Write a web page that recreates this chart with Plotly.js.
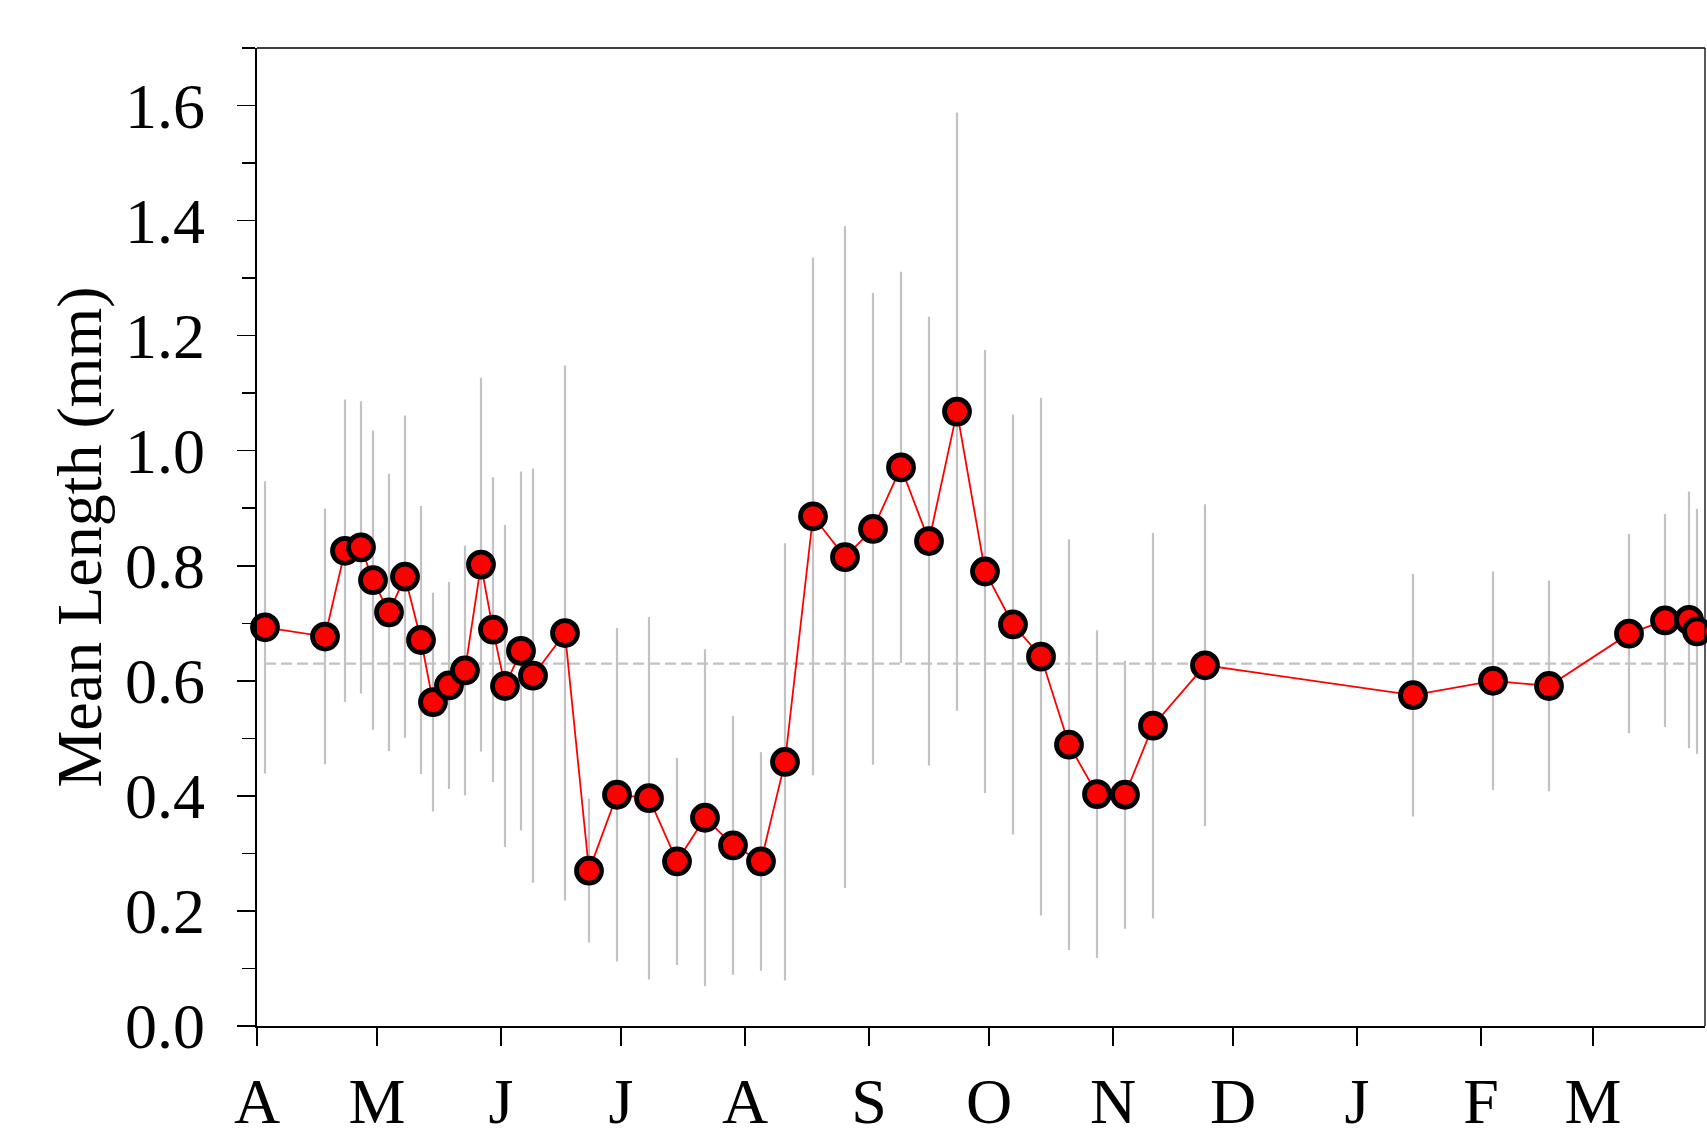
<!DOCTYPE html>
<html>
<head>
<meta charset="utf-8">
<script src="https://cdn.plot.ly/plotly-3.0.1.min.js"></script>
<style>html,body{margin:0;padding:0;background:#fff;}#chart{width:1707px;height:1140px;}</style>
</head>
<body>
<div id="chart"></div>
<script>
// ---- data ----
const sampleDates = [
  '2013-04-03','2013-04-18','2013-04-23','2013-04-27','2013-04-30',
  '2013-05-04','2013-05-08','2013-05-12','2013-05-15','2013-05-19',
  '2013-05-23','2013-05-27','2013-05-30','2013-06-02','2013-06-06',
  '2013-06-09','2013-06-17','2013-06-23','2013-06-30','2013-07-08',
  '2013-07-15','2013-07-22','2013-07-29','2013-08-05','2013-08-11',
  '2013-08-18','2013-08-26','2013-09-02','2013-09-09','2013-09-16',
  '2013-09-23','2013-09-30','2013-10-07','2013-10-14','2013-10-21',
  '2013-10-28','2013-11-04','2013-11-11','2013-11-24','2014-01-15',
  '2014-02-04','2014-02-18','2014-03-10','2014-03-19','2014-03-25',
  '2014-03-27'
];
const meanLength = [
  0.693,0.677,0.826,0.832,0.775,
  0.719,0.781,0.671,0.563,0.592,
  0.618,0.802,0.689,0.591,0.652,
  0.609,0.683,0.270,0.402,0.396,
  0.286,0.362,0.314,0.286,0.459,
  0.886,0.815,0.864,0.971,0.843,
  1.068,0.790,0.698,0.642,0.489,
  0.403,0.402,0.522,0.627,0.575,
  0.600,0.591,0.682,0.705,0.706,
  0.686
];
const sdLength = [
  0.254,0.222,0.263,0.254,0.260,
  0.241,0.280,0.233,0.190,0.180,
  0.217,0.325,0.265,0.280,0.312,
  0.360,0.465,0.125,0.290,0.315,
  0.180,0.293,0.225,0.190,0.380,
  0.450,0.575,0.410,0.340,0.390,
  0.520,0.385,0.365,0.450,0.357,
  0.285,0.233,0.335,0.280,0.211,
  0.190,0.183,0.173,0.185,0.223,
  0.213
];
const overallMean = 0.63;
const monthTicks = ['2013-04-01','2013-05-01','2013-06-01','2013-07-01','2013-08-01','2013-09-01',
                    '2013-10-01','2013-11-01','2013-12-01','2014-01-01','2014-02-01','2014-03-01'];
const monthLabels = ['A','M','J','J','A','S','O','N','D','J','F','M'];
const xRange = ['2013-04-01','2014-03-29'];
const yRange = [0, 1.7];

const FONT = 'Liberation Serif, Times New Roman, serif';

const traces = [
  { // error bars (behind)
    x: sampleDates, y: meanLength, type: 'scatter', mode: 'markers',
    marker: {size: 1, color: 'rgba(0,0,0,0)'},
    error_y: {type: 'data', array: sdLength, visible: true, color: '#c2c2c2', thickness: 2.2, width: 0},
    hoverinfo: 'skip', showlegend: false
  },
  { // overall mean dashed line
    x: [sampleDates[0], sampleDates[sampleDates.length-1]], y: [overallMean, overallMean],
    type: 'scatter', mode: 'lines',
    line: {color: '#c2c2c2', width: 2.2, dash: '11px,5px'},
    hoverinfo: 'skip', showlegend: false
  },
  { // mean length line + markers
    x: sampleDates, y: meanLength, type: 'scatter', mode: 'lines+markers',
    line: {color: '#ff0000', width: 1.8},
    marker: {symbol: 'circle', size: 25, color: '#ff0000', line: {color: '#000000', width: 4.8}},
    cliponaxis: false, showlegend: false
  }
];

const layout = {
  width: 1707, height: 1140,
  margin: {l: 257, r: 2, t: 48, b: 114, pad: 0},
  paper_bgcolor: '#ffffff', plot_bgcolor: '#ffffff',
  showlegend: false,
  font: {family: FONT, color: '#000000', size: 64},
  xaxis: {
    type: 'date', range: xRange, autorange: false,
    tickmode: 'array', tickvals: monthTicks, ticktext: monthLabels,
    ticks: 'outside', ticklen: 18, tickwidth: 1.5, tickcolor: '#000',
    showline: true, linecolor: '#000', linewidth: 2.2,
    showgrid: false, zeroline: false,
    tickfont: {family: FONT, size: 64, color: '#000'}
  },
  yaxis: {
    range: yRange, autorange: false,
    tickmode: 'linear', tick0: 0, dtick: 0.2, tickformat: '.1f',
    ticks: 'outside', ticklen: 18, tickwidth: 1.5, tickcolor: '#000',
    ticklabelstandoff: 19,
    minor: {tickmode: 'linear', tick0: 0, dtick: 0.1, ticks: 'outside', ticklen: 13, tickwidth: 1.5, tickcolor: '#000', showgrid: false},
    showline: true, linecolor: '#000', linewidth: 2.2,
    showgrid: false, zeroline: false,
    tickfont: {family: FONT, size: 64, color: '#000'},
    title: {text: 'Mean Length (mm)', font: {family: FONT, size: 64, color: '#000'}, standoff: 3}
  },
  shapes: [
    {type: 'line', xref: 'paper', yref: 'paper', x0: 0, x1: 1, y0: 1, y1: 1, line: {color: '#000', width: 1.3}},
    {type: 'line', xref: 'paper', yref: 'paper', x0: 1, x1: 1, y0: 0, y1: 1, line: {color: '#000', width: 1.3}}
  ]
};

Plotly.newPlot('chart', traces, layout, {displayModeBar: false, staticPlot: true});
</script>
</body>
</html>
